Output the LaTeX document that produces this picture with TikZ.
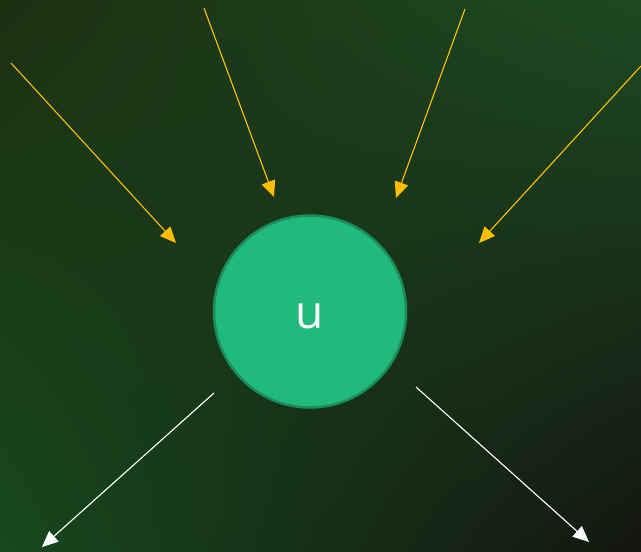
\documentclass[tikz,border=0pt]{standalone}
\usepackage{fontspec}
\setmainfont{Open Sans}
\usetikzlibrary{arrows.meta,shadings}
\definecolor{bgTL}{HTML}{1C3012}
\definecolor{bgTR}{HTML}{1C4A22}
\definecolor{bgBL}{HTML}{16481D}
\definecolor{bgBR}{HTML}{14150F}
\definecolor{nodefill}{HTML}{21BA7E}
\definecolor{nodeline}{HTML}{1B8C5C}
\definecolor{inarrow}{HTML}{FFBE00}
\tikzset{
  vnode/.style={circle, fill=nodefill, draw=nodeline, line width=2.5pt, minimum size=192pt, inner sep=0pt, text=white, font=\fontsize{46}{46}\selectfont, text height=33pt, text depth=0pt},
  inedge/.style={draw=inarrow, line width=1.1pt, -{Triangle[length=16pt,width=14pt]}, fill=inarrow},
  outedge/.style={draw=white, line width=1.1pt, -{Triangle[length=16pt,width=14pt]}, fill=white},
}
\begin{document}
\begin{tikzpicture}[x=1pt,y=-1pt]
\useasboundingbox (0,0) rectangle (641,552);
\shade[upper left=bgTL, upper right=bgTR, lower left=bgBL, lower right=bgBR] (0,0) rectangle (641,552);
\node[vnode] (u) at (310,311.5) {u};
\coordinate (a1) at (11,63);   \coordinate (b1) at (176,243);
\coordinate (a2) at (204,8);   \coordinate (b2) at (274,197);
\coordinate (a3) at (465,9);   \coordinate (b3) at (396,198);
\coordinate (a4) at (641,66);  \coordinate (b4) at (479,243);
\coordinate (c1) at (214,393); \coordinate (d1) at (42,547);
\coordinate (c2) at (416,387); \coordinate (d2) at (589,542);
\draw[inedge] (a1) -- (b1);
\draw[inedge] (a2) -- (b2);
\draw[inedge] (a3) -- (b3);
\draw[inedge] (a4) -- (b4);
\draw[outedge] (c1) -- (d1);
\draw[outedge] (c2) -- (d2);
\end{tikzpicture}
\end{document}
